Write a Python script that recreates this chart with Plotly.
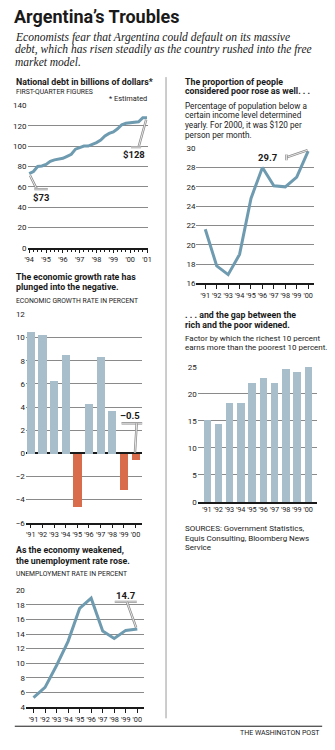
import plotly.graph_objects as go

# ---------------- data ----------------
debt_quarters = [1994 + q / 4 for q in range(29)]
debt_values = [73, 75, 80, 80.5, 82, 85, 86.5, 87, 88, 90, 92, 97, 98.5, 100, 100,
               101.5, 103.5, 106, 110, 112.5, 114, 117, 121, 122.5, 123, 123.5,
               124, 128, 128]
debt_years = [1994, 1995, 1996, 1997, 1998, 1999, 2000, 2001]
debt_labels = ["'94", "'95", "'96", "'97", "'98", "'99", "'00", "'01"]

years = [1991, 1992, 1993, 1994, 1995, 1996, 1997, 1998, 1999, 2000]
year_labels = ["'91", "'92", "'93", "'94", "'95", "'96", "'97", "'98", "'99", "'00"]

poverty_pct = [21.6, 17.8, 16.9, 19.0, 24.8, 28.0, 26.1, 26.0, 27.0, 29.7]
growth_pct = [10.5, 10.3, 6.3, 8.5, -4.6, 4.3, 8.4, 3.7, -3.1, -0.5]
gap_factor = [15.2, 14.5, 18.3, 18.3, 22.0, 22.9, 22.1, 24.7, 24.1, 25.0]
unemployment_pct = [5.3, 6.7, 9.7, 13.0, 17.5, 18.9, 14.4, 13.4, 14.5, 14.7]

debt_ticks = [0, 20, 40, 60, 80, 100, 120, 140]
poverty_ticks = [16, 18, 20, 22, 24, 26, 28, 30]
growth_ticks = [-6, -4, -2, 0, 2, 4, 6, 8, 10, 12]
gap_ticks = [0, 5, 10, 15, 20, 25]
unemployment_ticks = [4, 6, 8, 10, 12, 14, 16, 18, 20]

# ---------------- style ----------------
W, H = 335, 750
LINE = "#6f9bb0"
BAR = "#a8bfcb"
NEG = "#d96c4b"
GRID = "#8a8a8a"
INK = "#1a1a1a"
SANS = "Roboto, Liberation Sans, sans-serif"
SERIF = "Liberation Serif, DejaVu Serif, serif"


def px_x(p):
    return p / W


def px_y(p):
    return 1 - p / H


fig = go.Figure()

fig.add_trace(go.Scatter(x=debt_quarters, y=debt_values, mode="lines",
                         line=dict(color=LINE, width=3), xaxis="x", yaxis="y",
                         hoverinfo="skip"))
fig.add_trace(go.Scatter(x=years, y=poverty_pct, mode="lines",
                         line=dict(color=LINE, width=3), xaxis="x2", yaxis="y2",
                         hoverinfo="skip"))
fig.add_trace(go.Bar(x=years, y=growth_pct, width=0.7,
                     marker=dict(color=[BAR if v >= 0 else NEG for v in growth_pct],
                                 line=dict(width=0)),
                     xaxis="x3", yaxis="y3", hoverinfo="skip"))
fig.add_trace(go.Bar(x=years, y=gap_factor, width=0.66,
                     marker=dict(color=BAR, line=dict(width=0)),
                     xaxis="x4", yaxis="y4", hoverinfo="skip"))
fig.add_trace(go.Scatter(x=years, y=unemployment_pct, mode="lines",
                         line=dict(color=LINE, width=3), xaxis="x5", yaxis="y5",
                         hoverinfo="skip"))


def xaxis(left, right, rng, tickvals, ticktext, anchor, minor=None, ticks="outside"):
    ax = dict(domain=[px_x(left), px_x(right)], range=rng, anchor=anchor,
              tickvals=tickvals, ticktext=ticktext,
              tickfont=dict(family=SANS, size=7.3, color=INK), tickangle=0,
              showgrid=False, zeroline=False, showline=True, linecolor=INK,
              linewidth=1.5, ticks=ticks, ticklen=4, tickcolor=INK, tickwidth=1,
              fixedrange=True)
    if minor:
        ax["minor"] = minor
    return ax


def yaxis(top, bottom, rng, tickvals, anchor, zeroline=False):
    return dict(domain=[px_y(bottom), px_y(top)], range=rng, anchor=anchor,
                tickvals=tickvals,
                tickfont=dict(family=SANS, size=8, color=INK), showgrid=True,
                gridcolor=GRID, gridwidth=1, zeroline=zeroline,
                zerolinecolor=INK, zerolinewidth=1.5, showline=False,
                ticks="", fixedrange=True)


fig.update_layout(
    width=W, height=H, margin=dict(l=0, r=0, t=0, b=0),
    paper_bgcolor="white", plot_bgcolor="white", showlegend=False,
    bargap=0,
    xaxis=xaxis(25, 148, [1993.90, 2001.08], debt_years, debt_labels, "y",
                minor=dict(dtick=0.25, tick0=1994, ticks="outside", ticklen=3,
                           tickcolor=INK, showgrid=False)),
    yaxis=yaxis(102.7, 246.7, [0, 140], debt_ticks, "x"),
    xaxis2=xaxis(197, 317, [1990.23, 2000.54], years, year_labels, "y2"),
    yaxis2=yaxis(146, 282.7, [16, 30], poverty_ticks, "x2"),
    xaxis3=xaxis(23.3, 141.7, [1990.58, 2000.57], years, year_labels, "y3"),
    yaxis3=yaxis(314.3, 525, [-6, 12], growth_ticks, "x3", zeroline=True),
    xaxis4=xaxis(198.3, 320, [1990.18, 2000.81], years, year_labels, "y4", ticks=""),
    yaxis4=yaxis(367.3, 504, [0, 25], gap_ticks, "x4"),
    xaxis5=xaxis(23.3, 143.3, [1990.34, 2000.56], years, year_labels, "y5"),
    yaxis5=yaxis(593.3, 711.7, [4, 20], unemployment_ticks, "x5"),
)

annotations = []


def text(x, y, s, size=8.0, family=SANS, bold=False, italic=False,
         anchor="left", color=INK):
    f = dict(family=family, size=size, color=color)
    if bold:
        f["weight"] = "bold"
    if italic:
        f["style"] = "italic"
    annotations.append(dict(x=px_x(x), y=px_y(y), xref="paper", yref="paper",
                            text=s, showarrow=False, xanchor=anchor,
                            yanchor="middle", font=f))


HEAD = 8.8
CAPS = 6.8

# headline block
text(9, 12.5, "Argentina’s Troubles", size=18, bold=True)
for i, line in enumerate([
        "Economists fear that Argentina could default on its massive",
        "debt, which has risen steadily as the country rushed into the free",
        "market model."]):
    text(10, 33.5 + 12.5 * i, line, size=11.5, family=SERIF, italic=True)

# left column headings
text(11, 79, "National debt in billions of dollars*", size=HEAD, bold=True)
text(11, 89.5, "FIRST-QUARTER FIGURES", size=CAPS)
text(149, 96, "* Estimated", size=7.4, anchor="right")

text(11, 276, "The economic growth rate has", size=HEAD, bold=True)
text(11, 286, "plunged into the negative.", size=HEAD, bold=True)
text(11, 300.5, "ECONOMIC GROWTH RATE IN PERCENT", size=CAPS)

text(11, 553, "As the economy weakened,", size=HEAD, bold=True)
text(11, 563.5, "the unemployment rate rose.", size=HEAD, bold=True)
text(11, 577, "UNEMPLOYMENT RATE IN PERCENT", size=CAPS)

# right column headings
text(183, 78.5, "The proportion of people", size=HEAD, bold=True)
text(183, 88.5, "considered poor rose as well. . .", size=HEAD, bold=True)
for i, line in enumerate(["Percentage of population below a",
                          "certain income level determined",
                          "yearly. For 2000, it was $120 per",
                          "person per month."]):
    text(183, 103 + 9.8 * i, line, size=8.2)

text(183, 315, ". . . and the gap between the", size=HEAD, bold=True)
text(183, 325, "rich and the poor widened.", size=HEAD, bold=True)
text(183, 338.5, "Factor by which the richest 10 percent", size=8.0)
text(183, 348, "earns more than the poorest 10 percent.", size=8.0)

for i, line in enumerate(["SOURCES: Government Statistics,",
                          "Equis Consulting, Bloomberg News",
                          "Service"]):
    text(183, 531 + 9.6 * i, line, size=8.0)

text(325, 737.5, "THE WASHINGTON POST", size=7, anchor="right")


def callout(xref, yref, x, y, s):
    annotations.append(dict(x=x, y=y, xref=xref, yref=yref, text=s,
                            showarrow=False, xanchor="center", yanchor="middle",
                            font=dict(family=SANS, size=9.5, color=INK,
                                      weight="bold")))


callout("x", "y", 1994.72, 49, "$" + str(debt_values[0]))
callout("x", "y", 2000.25, 92, "$" + str(debt_values[-1]))
callout("x2", "y2", 1996.5, 29.05, str(poverty_pct[-1]))
callout("x3", "y3", 1999.5, 3.3, "–" + str(abs(growth_pct[-1])))
callout("x5", "y5", 1999.0, 19.3, str(unemployment_pct[-1]))

fig.update_layout(annotations=annotations)

shapes = []


def leader(xref, yref, pts):
    # outlined pointer: grey stroke with a white core
    for col, w in (("#8a8a8a", 2.4), ("white", 0.8)):
        for (x0, y0), (x1, y1) in zip(pts[:-1], pts[1:]):
            shapes.append(dict(type="line", xref=xref, yref=yref, x0=x0, y0=y0,
                               x1=x1, y1=y1, line=dict(color=col, width=w)))


leader("x", "y", [(1994.05, 71), (1994.45, 57.7)])
leader("x", "y", [(1994.3, 57.7), (1995.1, 57.7)])
leader("x", "y", [(2000.95, 126), (2000.5, 99)])
leader("x", "y", [(2000.05, 99), (2000.65, 99)])
leader("x2", "y2", [(1998.1, 29.05), (1999.95, 29.8)])
leader("x2", "y2", [(1998.1, 28.75), (1998.1, 29.35)])
leader("x3", "y3", [(1998.8, 2.6), (2000.75, 2.6)])
leader("x3", "y3", [(2000.1, 2.6), (1999.95, 0.05)])
leader("x5", "y5", [(1998.05, 18.4), (1999.95, 18.4)])
leader("x5", "y5", [(1999.1, 18.4), (1999.9, 14.9)])

# column divider and footer rule
shapes.append(dict(type="line", xref="paper", yref="paper",
                   x0=px_x(166), x1=px_x(166), y0=px_y(74), y1=px_y(723),
                   line=dict(color="#9a9a9a", width=1)))
shapes.append(dict(type="line", xref="paper", yref="paper",
                   x0=px_x(12), x1=px_x(325), y0=px_y(731), y1=px_y(731),
                   line=dict(color=INK, width=1)))

fig.update_layout(shapes=shapes)

fig.write_html("out.html")
